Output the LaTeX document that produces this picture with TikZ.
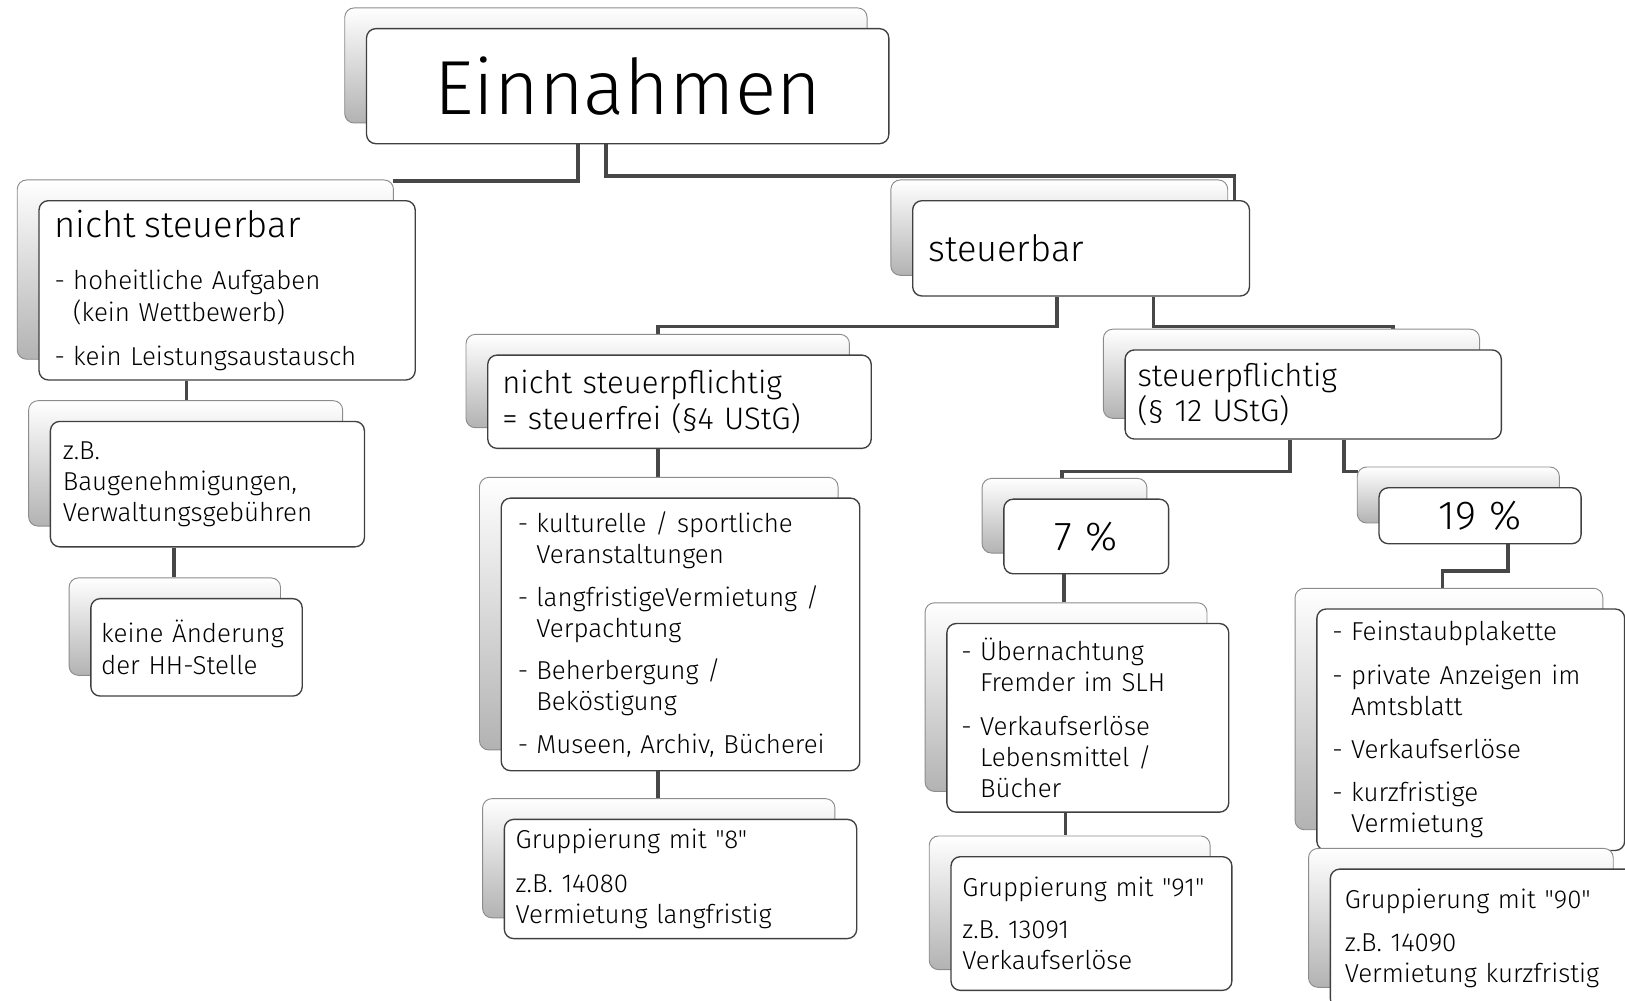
\documentclass[tikz,border=0pt]{standalone}
\usepackage{fontspec}
\newfontfamily\mainf{Fira Sans Light}
\usetikzlibrary{shadows,backgrounds}
\newcommand\bodyf{\mainf\fontsize{25}{30}\selectfont}
\newcommand\headf{\mainf\fontsize{35}{40}\selectfont}
\newcommand\midf{\mainf\fontsize{30}{34.5}\selectfont}
\newcommand\itmdash{\makebox[18pt][l]{-}}
\newcommand\itmind{\hspace*{18pt}}
\begin{document}
\begin{tikzpicture}[x=1pt,y=-1pt,
  box/.style={draw=black!75, line width=1.3pt, rounded corners=9pt, fill=white,
    anchor=north west, inner xsep=13pt, inner ysep=0pt, align=left, font=\bodyf,
    copy shadow={shadow xshift=-21pt, shadow yshift=20pt, opacity=1,
      draw=black!45, line width=0.9pt, top color=white, bottom color=black!30}},
  conn/.style={line width=3.6pt, draw=black!72}]
\useasboundingbox (0,0) rectangle (1568,965);

\node[box, minimum width=504pt, minimum height=111pt, text width=478pt, align=center,
  font=\mainf\fontsize{74}{80}\selectfont] (ein) at (353,27) {Einnahmen};

\node[box, minimum width=363pt, minimum height=173pt, text width=333pt, inner xsep=15pt] (ns) at (37,193)
  {{\headf nicht steuerbar}\\[21pt]
   \itmdash hoheitliche Aufgaben\\
   \itmind (kein Wettbewerb)\\[13pt]
   \itmdash kein Leistungsaustausch};

\node[box, minimum width=303pt, minimum height=121pt, text width=279pt, inner xsep=12pt] (zb) at (48,406)
  {z.B.\\ Baugenehmigungen,\\ Verwaltungsgebühren};

\node[box, minimum width=204pt, minimum height=94pt, text width=184pt, inner xsep=10pt] (kh) at (87,577)
  {keine Änderung\\ der HH-Stelle};

\node[box, minimum width=325pt, minimum height=92pt, text width=295pt, inner xsep=15pt, font=\headf] (sb) at (880,193)
  {steuerbar};

\node[box, minimum width=370pt, minimum height=90pt, text width=342pt, inner xsep=14pt, font=\midf] (np) at (470,342)
  {nicht steuerpflichtig\\ = steuerfrei (§4 UStG)};

\node[box, minimum width=363pt, minimum height=86pt, text width=339pt, inner xsep=12pt, font=\midf] (sp) at (1085,337)
  {steuerpflichtig\\ (§ 12 UStG)};

\node[box, minimum width=346pt, minimum height=263pt, text width=314pt, inner xsep=16pt] (ku) at (483,480)
  {\itmdash kulturelle / sportliche\\
   \itmind Veranstaltungen\\[11pt]
   \itmdash langfristigeVermietung /\\
   \itmind Verpachtung\\[11pt]
   \itmdash Beherbergung /\\
   \itmind Beköstigung\\[11pt]
   \itmdash Museen, Archiv, Bücherei};

\node[box, minimum width=340pt, minimum height=115pt, text width=318pt, inner xsep=11pt] (g8) at (486,790)
  {Gruppierung mit "8"\\[12pt] z.B. 14080\\ Vermietung langfristig};

\node[box, minimum width=159pt, minimum height=72pt, text width=133pt, align=center,
  font=\mainf\fontsize{39}{42}\selectfont] (p7) at (968,481) {7 \%};

\node[box, minimum width=195pt, minimum height=54pt, text width=169pt, align=center,
  font=\mainf\fontsize{39}{42}\selectfont] (p19) at (1330,470) {19 \%};

\node[box, minimum width=272pt, minimum height=182pt, text width=244pt, inner xsep=14pt] (ub) at (913,601)
  {\itmdash Übernachtung\\
   \itmind Fremder im SLH\\[12pt]
   \itmdash Verkaufserlöse\\
   \itmind Lebensmittel /\\
   \itmind Bücher};

\node[box, minimum width=271pt, minimum height=129pt, text width=249pt, inner xsep=11pt] (g91) at (917,826)
  {Gruppierung mit "91"\\[11pt] z.B. 13091\\ Verkaufserlöse};

\node[box, minimum width=297pt, minimum height=233pt, text width=267pt, inner xsep=15pt] (fs) at (1270,587)
  {\itmdash Feinstaubplakette\\[12pt]
   \itmdash private Anzeigen im\\
   \itmind Amtsblatt\\[11pt]
   \itmdash Verkaufserlöse\\[12pt]
   \itmdash kurzfristige\\
   \itmind Vermietung};

\node[box, minimum width=294pt, minimum height=134pt, text width=266pt, inner xsep=14pt] (g90) at (1283,838)
  {Gruppierung mit "90"\\[11pt] z.B. 14090\\ Vermietung kurzfristig};

\begin{scope}[on background layer]
\draw[conn] ([xshift=205pt]ein.south west) |- ([xshift=-22pt,yshift=18pt]ns.north east);
\draw[conn] ([xshift=232pt]ein.south west) |- ([xshift=-15pt,yshift=23pt]sb.north east)
  -- ([xshift=-15pt]sb.north east);
\draw[conn] ([xshift=140pt]sb.south west) |- ([xshift=165pt,yshift=27pt]np.north west)
  -- ([xshift=165pt,yshift=20pt]np.north west);
\draw[conn] ([xshift=233pt]sb.south west) |- ([xshift=259pt,yshift=22pt]sp.north west)
  -- ([xshift=259pt,yshift=19pt]sp.north west);
\draw[conn] ([xshift=160pt]sp.south west) |- ([xshift=57pt,yshift=26pt]p7.north west)
  -- ([xshift=57pt,yshift=20pt]p7.north west);
\draw[conn] ([xshift=212pt]sp.south west) |- ([xshift=-20pt,yshift=15pt]p19.north west);
\draw[conn] ([xshift=125pt]p19.south west) |- ([xshift=122pt,yshift=36pt]fs.north west)
  -- ([xshift=122pt,yshift=20pt]fs.north west);
\draw[conn] ([xshift=59pt]p7.south west) -- ([xshift=114pt,yshift=20pt]ub.north west);
\draw[conn] ([xshift=115pt]ub.south west) -- ([xshift=111pt,yshift=20pt]g91.north west);
\draw[conn] ([xshift=152pt]ku.south west) -- ([xshift=149pt,yshift=20pt]g8.north west);
\draw[conn] ([xshift=165pt]np.south west) -- ([xshift=152pt,yshift=20pt]ku.north west);
\draw[conn] ([xshift=143pt]ns.south west) -- ([xshift=132pt,yshift=19pt]zb.north west);
\draw[conn] ([xshift=120pt]zb.south west) -- ([xshift=81pt,yshift=20pt]kh.north west);
\end{scope}
\end{tikzpicture}
\end{document}
